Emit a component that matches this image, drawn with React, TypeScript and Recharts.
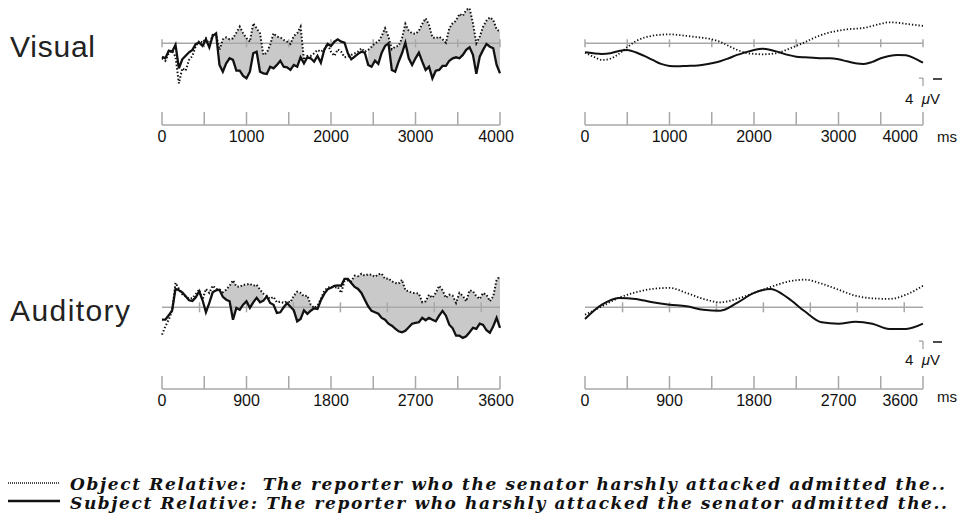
import { Area, ComposedChart, Line, ReferenceLine, XAxis, YAxis } from "recharts";

// values in µV, negative plotted up; raw traces sampled on a fixed grid
const visualRawStep = 40;
const visualRawSubject = [
  6.7, 7.5, 3.7, 4.2, 0.8, 12.5, 8, 6.2, 4.5, 3.3,
  0.3, -0.3, 1.3, -2, 2, -3.7, -5, 10.8, 14.2, 10,
  7.5, 8.3, 13.7, 13.7, 16.3, 17.5, 14.2, 5, 4.2, 14.2,
  15, 15.3, 11.7, 12.5, 10.8, 8.7, 11.7, 12, 13.3, 10.8,
  11.7, 7, 10, 7, 7.5, 9.2, 6.3, 9.7, 3.3, 0.3,
  1.3, -0.8, -2, -0.8, -0.3, 5, 8, 6.7, 5.3, 4.2,
  4.7, 10.8, 11.7, 8.7, 10.3, 4.7, 1.3, 0, 13.3, 14.2,
  9.2, 5, -0.3, 7.5, 10.8, 7.5, 4.7, 9.2, 13.3, 11.7,
  17.5, 13.7, 13.3, 11.3, 11.3, 8.7, 7.5, 7, 7.5, 5.8,
  3.3, 2, 5.8, 15.3, 6.7, 3.3, 0.3, 1.7, 2.5, 10.8,
  15,
];
const visualRawObject = [
  7.5, 8.7, 5, 3.7, 6.7, 20, 12.5, 13.7, 8.3, 6.3,
  1.3, -1.3, -0.3, -2.5, 0.8, -4.2, -4.7, 3.3, -2, -3,
  -2, -2.5, -5.3, -8.3, -5, -2.5, -0.8, -10, -7.5, -5,
  5.8, 4.7, 0.8, -5, -3.3, -3, -1.7, -0.8, 0.3, -3.7,
  -5, -8.3, 8.3, 6.3, 6.3, 5, 3.3, 4.2, 3, 0.3,
  4.2, 6.3, 3, 4.2, 7, 6.7, 5.8, 5, 4.2, 2.5,
  4.2, 3.3, 1.7, 0, -0.8, -3.7, -7.5, -3.3, 3, 1.7,
  1.3, -2.5, -9.7, -6.3, -5, -4.7, -6.3, -9.7, -12.5, -9.2,
  -3, -2.5, -3.3, -2, -0.3, -7.5, -10, -11.3, -14.7, -13.7,
  -16.7, -17.5, -10, 0, -3.3, -8.3, -11.3, -13, -11.7, -7,
  -5.8,
];
const visualShade: [number, number][] = [[680, 1680], [2440, 4000]];

const auditoryRawStep = 36;
const auditoryRawSubject = [
  6.2, 6.2, 4, 1.5, -9.2, -8.5, -7.5, -5.5, -3.5, -3.2,
  -5, -8, -3.5, 2.5, -2.2, -7.5, -8.5, -8.8, -5.2, -3.8,
  -3, 6.2, 0.3, 1.2, -1.3, -3, 0.3, -2.5, -4.7, -2.5,
  -3.3, -5.5, -2.2, -1.3, 2.8, 2.5, 0, -2, -0.3, 1.5,
  7, 5.8, 1.5, 3.3, 1.7, 0.5, 0.8, -3.5, -6.7, -9,
  -9.8, -10.7, -11, -10.8, -14.2, -14.2, -12.2, -10.2, -9.2, -7.2,
  -3.8, -0.5, 1.8, 2.5, 3.2, 5.3, 6.2, 8.2, 9.2, 10.7,
  12, 12.5, 11.7, 10, 8.2, 7.8, 7.5, 5.3, 6.5, 5.3,
  6.2, 7, 4.2, 1.8, 4.2, 8.7, 10.5, 14.2, 14.2, 15.3,
  14.5, 12.5, 10.3, 10.8, 8.2, 8.8, 11.5, 12.7, 9.5, 5.3,
  10.3,
];
const auditoryRawObject = [
  13.7, 9.5, 6.2, 1.7, -12.2, -9.2, -6.5, -5.5, -4.3, -4.5,
  -6.7, -8.8, -3.8, -9.2, -7.2, -10.8, -9.2, -8.8, -7.5, -8.8,
  -10.8, -13.5, -10.5, -10.2, -11.3, -11.3, -11.8, -10.8, -11.3, -8.8,
  -6.8, -5.5, -4.2, -5.2, -2.5, -2.8, -2.2, -3, -2.5, -5.8,
  -7.8, -7.2, -5.5, -5.8, -1.3, 0.3, -0.8, -4.2, -8.2, -9.8,
  -10.2, -9.8, -10.2, -7.2, -13.2, -13.5, -13, -15.8, -15.5, -16.8,
  -15.8, -16.5, -16.3, -15.2, -16.5, -16.8, -14.2, -14.5, -13, -12.2,
  -11.8, -13.8, -8.5, -8, -7.2, -7.2, -6.8, -2.5, -3, -6.3,
  -4.7, -7.2, -10.8, -8.5, -4.7, -6.3, -5.8, -2.2, -7.2, -5.8,
  -3, -8.5, -8, -5.5, -4.2, -7.2, -6.3, -3, -5.5, -13.8,
  -15.5,
];
const auditoryShade: [number, number][] = [[612, 1080], [1332, 1620], [2016, 3600]];

// low-pass filtered versions
const visualSmoothStep = 100;
const visualSmoothSubject = [
  4.5, 5, 5.3, 5, 3.8, 3.3, 4.5, 6.3, 8.3, 10.3,
  11.3, 11.5, 11.3, 11.2, 10.7, 10, 9, 7.5, 5.8, 4.5,
  3.3, 2.7, 3.3, 4.5, 5.8, 6.7, 7, 7.2, 7.5, 7.5,
  8, 9, 10, 10.3, 9.3, 7.5, 6.3, 5.8, 6, 7.5,
  9.7,
];
const visualSmoothObject = [
  4.7, 6.7, 8.3, 7.7, 5.3, 2, -1, -2.8, -3.8, -4.3,
  -4.5, -4.2, -3.7, -3.2, -2.7, -2, -0.7, 1.3, 3.3, 4.7,
  5.3, 5.5, 5.3, 4.5, 3, 1.3, -0.5, -2.5, -4.2, -5.5,
  -6.3, -7, -7.3, -7.7, -8.7, -9.7, -10.5, -10.3, -9.7, -9.2,
  -8.7,
];
const auditorySmoothStep = 180;
const auditorySmoothSubject = [
  5.8, -1.3, -4.7, -4.2, -2.5, -1.3, -0.5, 1.2, 1.7, -2.2,
  -7.2, -9.2, -4.7, 2, 7.5, 8.2, 7.2, 8.2, 10.8, 10.8,
  8.2,
];
const auditorySmoothObject = [
  3.7, -0.5, -4.7, -7.5, -9.2, -9.7, -7.2, -4.2, -2.5, -4.2,
  -7.2, -10.2, -12.8, -13.8, -11.8, -8.8, -5.8, -4.5, -4.2, -6.3,
  -10.8,
];

const visualTicks = [0, 500, 1000, 1500, 2000, 2500, 3000, 3500, 4000];
const visualBaseTicks = [0, 500, 1000, 1500, 2000, 2500, 3000, 3500, 4000];
const auditoryTicks = [0, 450, 900, 1350, 1800, 2250, 2700, 3150, 3600];
const auditoryBaseTicks = [400, 900, 1400, 1900, 2400, 2900, 3400];

const legendObject = "Object Relative:  The reporter who the senator harshly attacked admitted the..";
const legendSubject = "Subject Relative: The reporter who harshly attacked the senator admitted the..";

const SANS = "'Liberation Sans', Arial, sans-serif";
const INK = "#111";
const GRID = "#a8a8a8";

function buildRows(step: number, subj: number[], obj: number[], shade: [number, number][] = []) {
  return subj.map((s, i) => {
    const t = i * step;
    const inShade = shade.some(([a, b]) => t >= a && t <= b);
    return { t, subj: s, obj: obj[i], band: inShade ? [s, obj[i]] : null };
  });
}

function makeTick(labelEvery: number, xMax: number, lastEnd: boolean) {
  return (props: any) => {
    const { x, y, payload } = props;
    const v = payload.value as number;
    const isLast = v === xMax;
    const anchor = isLast && lastEnd ? "end" : "middle";
    const tx = isLast ? (lastEnd ? x - 5 : x - 4) : x;
    return (
      <g>
        <line x1={x} x2={x} y1={y - 13} y2={y} stroke={GRID} strokeWidth={1.5} />
        {v % labelEvery === 0 && (
          <text x={tx} y={y + 17} textAnchor={anchor} fontSize={16} fill={INK} fontFamily={SANS}>
            {v}
          </text>
        )}
      </g>
    );
  };
}

type PanelProps = {
  left: number;
  top: number;
  rows: any[];
  xMax: number;
  ticks: number[];
  labelEvery: number;
  baseTicks: number[];
  baseTickHalf: number;
  smooth?: boolean;
  shaded?: boolean;
  scaleBar?: [number, number];
};

function Panel({ left, top, rows, xMax, ticks, labelEvery, baseTicks, baseTickHalf, smooth, shaded, scaleBar }: PanelProps) {
  const curve = smooth ? "monotone" : "linear";
  return (
    <div style={{ position: "absolute", left, top }}>
      <ComposedChart width={370} height={150} data={rows} margin={{ top: 0, right: 20, bottom: 0, left: 12 }}>
        <XAxis
          dataKey="t"
          type="number"
          domain={[0, xMax]}
          ticks={ticks}
          height={25}
          tickLine={false}
          tickSize={0}
          tickMargin={0}
          axisLine={{ stroke: GRID, strokeWidth: 1.5 }}
          tick={makeTick(labelEvery, xMax, !!smooth)}
          interval={0}
        />
        <YAxis hide type="number" domain={[-21.65, 40.85]} reversed allowDataOverflow />
        {shaded && (
          <Area
            dataKey="band"
            type="linear"
            fill="#c9c9c9"
            fillOpacity={1}
            stroke="none"
            isAnimationActive={false}
            dot={false}
            activeDot={false}
          />
        )}
        <ReferenceLine y={0} stroke={GRID} strokeWidth={1.5} />
        {baseTicks.map((t) => (
          <ReferenceLine
            key={t}
            segment={[{ x: t, y: -baseTickHalf }, { x: t, y: baseTickHalf }]}
            stroke={GRID}
            strokeWidth={1.5}
          />
        ))}
        {scaleBar && (
          <ReferenceLine
            segment={[{ x: xMax * 0.988, y: scaleBar[0] }, { x: xMax, y: scaleBar[0] }]}
            stroke="#888"
            strokeWidth={1}
          />
        )}
        {scaleBar && (
          <ReferenceLine
            segment={[{ x: xMax, y: scaleBar[0] }, { x: xMax, y: scaleBar[1] }]}
            stroke="#888"
            strokeWidth={1}
          />
        )}
        <Line
          dataKey="obj"
          type={curve}
          stroke={INK}
          strokeWidth={smooth ? 1.8 : 2}
          strokeDasharray={smooth ? "1.3 2" : "1.5 2"}
          dot={false}
          activeDot={false}
          isAnimationActive={false}
        />
        <Line
          dataKey="subj"
          type={curve}
          stroke={INK}
          strokeWidth={smooth ? 2 : 2.3}
          dot={false}
          activeDot={false}
          isAnimationActive={false}
        />
      </ComposedChart>
    </div>
  );
}

export default function App() {
  const visualRaw = buildRows(visualRawStep, visualRawSubject, visualRawObject, visualShade);
  const auditoryRaw = buildRows(auditoryRawStep, auditoryRawSubject, auditoryRawObject, auditoryShade);
  const visualSmooth = buildRows(visualSmoothStep, visualSmoothSubject, visualSmoothObject);
  const auditorySmooth = buildRows(auditorySmoothStep, auditorySmoothSubject, auditorySmoothObject);

  return (
    <div style={{ position: "absolute", left: 0, top: 0, width: 961, height: 521, background: "#fff" }}>
      <Panel left={150} top={0} rows={visualRaw} xMax={4000} ticks={visualTicks} labelEvery={1000}
        baseTicks={visualBaseTicks} baseTickHalf={2} shaded />
      <Panel left={573} top={0} rows={visualSmooth} xMax={4000} ticks={visualTicks} labelEvery={1000}
        baseTicks={visualBaseTicks} baseTickHalf={2} smooth scaleBar={[17.4, 21.4]} />
      <Panel left={150} top={264} rows={auditoryRaw} xMax={3600} ticks={auditoryTicks} labelEvery={900}
        baseTicks={auditoryBaseTicks} baseTickHalf={2.5} shaded />
      <Panel left={573} top={264} rows={auditorySmooth} xMax={3600} ticks={auditoryTicks} labelEvery={900}
        baseTicks={auditoryBaseTicks} baseTickHalf={2.5} smooth scaleBar={[16.9, 20.9]} />

      <svg width={961} height={521} style={{ position: "absolute", left: 0, top: 0, pointerEvents: "none" }}>
        <text x={10} y={57} fontSize={30} fill="#222" fontFamily={SANS} textLength={85} lengthAdjust="spacing">Visual</text>
        <text x={10} y={321} fontSize={30} fill="#222" fontFamily={SANS} textLength={120} lengthAdjust="spacing">Auditory</text>

        <text x={937} y={142} fontSize={15} fill={INK} fontFamily={SANS}>ms</text>
        <text x={937} y={402} fontSize={15} fill={INK} fontFamily={SANS}>ms</text>

        <line x1={933} x2={942} y1={79} y2={79} stroke={INK} strokeWidth={1.5} />
        <text x={905} y={104} fontSize={15} fill={INK} fontFamily={SANS} style={{ whiteSpace: "pre" }}>
          4  <tspan fontStyle="italic">μ</tspan>V
        </text>
        <line x1={933} x2={942} y1={342} y2={342} stroke={INK} strokeWidth={1.5} />
        <text x={905} y={365} fontSize={15} fill={INK} fontFamily={SANS} style={{ whiteSpace: "pre" }}>
          4  <tspan fontStyle="italic">μ</tspan>V
        </text>

        <line x1={8} x2={60} y1={483} y2={483} stroke={INK} strokeWidth={1.3} strokeDasharray="1 1" />
        <line x1={8} x2={60} y1={501} y2={501} stroke={INK} strokeWidth={2.5} />
        <text x={70} y={490} fontSize={17} fontWeight="bold" fontStyle="italic" fill={INK}
          fontFamily="'DejaVu Serif', serif" textLength={875} lengthAdjust="spacing" style={{ whiteSpace: "pre" }}>
          {legendObject}
        </text>
        <text x={70} y={509} fontSize={17} fontWeight="bold" fontStyle="italic" fill={INK}
          fontFamily="'DejaVu Serif', serif" textLength={877} lengthAdjust="spacing" style={{ whiteSpace: "pre" }}>
          {legendSubject}
        </text>
      </svg>
    </div>
  );
}
